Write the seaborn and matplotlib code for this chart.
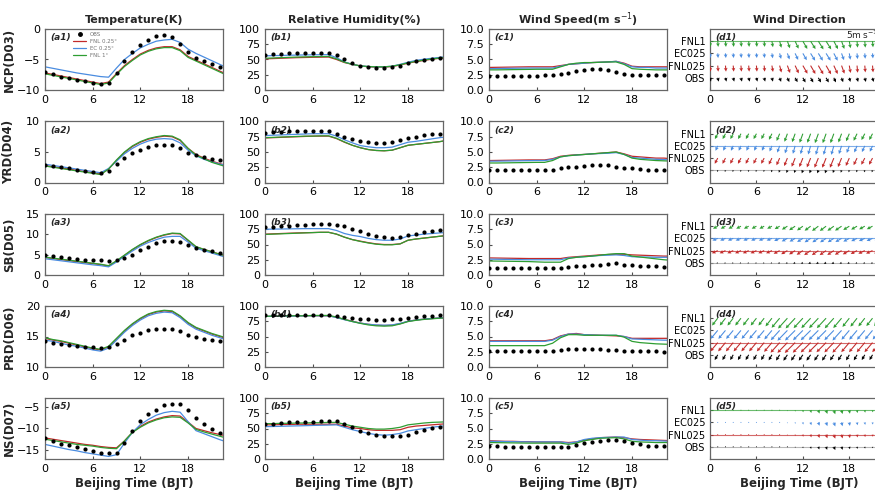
import numpy as np
import pandas as pd
import matplotlib.pyplot as plt
from matplotlib.lines import Line2D
import seaborn as sns

hours = list(range(24))
regions = ['NCP(D03)', 'YRD(D04)', 'SB(D05)', 'PRD(D06)', 'NS(D07)']
sources = ['FNL 0.25°', 'EC 0.25°', 'FNL 1°']
levels = ['OBS', 'FNL025', 'EC025', 'FNL1']

# ---- temperature (K), rows = regions ----
temp_obs = [
    [-7.1, -7.4, -7.8, -8.1, -8.3, -8.6, -8.9, -9.0, -8.9, -7.2, -5.2, -3.7, -2.7, -1.8, -1.2, -1.0, -1.3, -2.4, -3.7, -4.7, -5.2, -5.8, -6.3, -6.8],
    [2.9, 2.7, 2.5, 2.3, 2.1, 1.9, 1.7, 1.5, 1.9, 3.0, 4.0, 4.8, 5.4, 5.8, 6.1, 6.2, 6.1, 5.6, 4.9, 4.5, 4.2, 3.9, 3.7, 3.5],
    [4.8, 4.6, 4.4, 4.2, 4.0, 3.8, 3.7, 3.6, 3.5, 3.7, 4.2, 5.0, 6.1, 7.0, 7.9, 8.3, 8.4, 8.1, 7.5, 6.7, 6.2, 5.8, 5.4, 5.1],
    [14.3, 14.0, 13.8, 13.6, 13.4, 13.3, 13.2, 13.1, 13.2, 13.8, 14.5, 15.2, 15.6, 16.0, 16.2, 16.3, 16.2, 15.9, 15.3, 14.9, 14.6, 14.4, 14.3, 14.1],
    [-12.3, -13.1, -13.6, -14.0, -14.4, -14.9, -15.3, -15.7, -15.8, -15.8, -13.4, -10.7, -8.3, -6.8, -5.7, -4.6, -4.3, -4.4, -5.7, -7.6, -9.1, -10.3, -11.1, -12.0],
]
temp_fnl025 = [
    [-7.2, -7.45, -7.7, -7.95, -8.2, -8.45, -8.7, -8.95, -8.7, -7.3, -6.0, -5.0, -4.1, -3.5, -3.1, -2.9, -2.9, -3.4, -4.5, -5.1, -5.7, -6.3, -6.9, -7.5],
    [2.8, 2.6, 2.4, 2.2, 2.0, 1.8, 1.6, 1.4, 2.2, 3.6, 4.9, 5.9, 6.6, 7.1, 7.4, 7.6, 7.5, 6.9, 5.6, 4.6, 4.0, 3.5, 3.1, 2.7],
    [4.3, 4.05, 3.8, 3.55, 3.3, 3.05, 2.8, 2.55, 2.2, 3.4, 4.8, 6.2, 7.4, 8.4, 9.2, 9.8, 10.2, 10.1, 8.5, 6.9, 6.3, 5.7, 5.1, 4.6],
    [14.7, 14.4, 14.2, 13.9, 13.6, 13.3, 13.0, 12.8, 13.3, 14.6, 15.9, 17.0, 17.9, 18.6, 19.0, 19.2, 19.1, 18.3, 17.2, 16.4, 15.9, 15.4, 15.0, 14.6],
    [-12.3, -12.6, -12.9, -13.2, -13.5, -13.8, -14.0, -14.3, -14.5, -14.6, -13.0, -11.0, -9.6, -8.6, -7.9, -7.4, -7.1, -7.2, -8.6, -10.1, -10.6, -11.1, -11.5, -11.9],
]
temp_ec025 = [
    [-6.2, -6.45, -6.7, -6.95, -7.2, -7.4, -7.6, -7.8, -7.9, -6.4, -5.0, -4.0, -3.1, -2.5, -2.0, -1.8, -1.7, -2.2, -3.3, -4.0, -4.6, -5.2, -5.8, -6.4],
    [3.0, 2.8, 2.6, 2.4, 2.2, 2.0, 1.8, 1.6, 2.3, 3.5, 4.7, 5.6, 6.3, 6.8, 7.1, 7.2, 7.1, 6.5, 5.3, 4.4, 3.8, 3.4, 3.0, 2.8],
    [4.0, 3.75, 3.5, 3.25, 3.0, 2.75, 2.5, 2.3, 2.0, 3.2, 4.6, 5.9, 7.1, 8.0, 8.7, 9.3, 9.5, 9.5, 8.1, 6.6, 6.0, 5.4, 4.8, 4.2],
    [14.4, 14.2, 13.9, 13.6, 13.4, 13.1, 12.8, 12.6, 13.1, 14.4, 15.7, 16.8, 17.7, 18.4, 18.8, 19.0, 18.9, 18.1, 17.0, 16.2, 15.7, 15.2, 14.8, 14.4],
    [-13.8, -14.2, -14.6, -15.0, -15.3, -15.7, -16.0, -16.3, -16.6, -16.2, -13.5, -11.0, -9.2, -8.0, -7.0, -6.4, -6.1, -6.3, -8.5, -10.6, -11.3, -12.0, -12.7, -13.3],
]
temp_fnl1 = [
    [-7.35, -7.6, -7.85, -8.1, -8.35, -8.6, -8.85, -9.1, -8.85, -7.45, -6.15, -5.15, -4.25, -3.65, -3.25, -3.05, -3.05, -3.55, -4.65, -5.25, -5.85, -6.45, -7.05, -7.65],
    [2.7, 2.5, 2.3, 2.1, 1.9, 1.7, 1.5, 1.3, 2.2, 3.7, 5.0, 6.0, 6.7, 7.2, 7.5, 7.7, 7.6, 7.0, 5.6, 4.5, 3.9, 3.3, 2.9, 2.5],
    [4.4, 4.15, 3.9, 3.65, 3.4, 3.15, 2.9, 2.65, 2.3, 3.5, 4.9, 6.3, 7.5, 8.5, 9.3, 9.9, 10.3, 10.2, 8.6, 7.0, 6.3, 5.7, 5.1, 4.6],
    [14.8, 14.5, 14.3, 14.0, 13.7, 13.4, 13.1, 12.9, 13.4, 14.7, 16.0, 17.1, 18.0, 18.7, 19.1, 19.3, 19.2, 18.4, 17.3, 16.5, 16.0, 15.5, 15.1, 14.7],
    [-12.6, -12.9, -13.2, -13.5, -13.8, -14.0, -14.2, -14.5, -14.7, -14.8, -13.0, -11.0, -9.8, -8.8, -8.1, -7.6, -7.4, -7.5, -8.8, -10.3, -10.9, -11.4, -11.9, -12.4],
]

# ---- relative humidity (%) ----
rh_obs = [
    [57, 59, 59, 60, 60, 61, 61, 61, 61, 57, 50, 45, 40, 38, 36, 36, 37, 40, 44, 47, 49, 51, 52, 54],
    [81, 83, 83, 84, 84, 84, 84, 84, 84, 80, 75, 72, 68, 67, 65, 65, 67, 70, 73, 75, 78, 79, 80, 81],
    [78, 79, 80, 81, 82, 82, 83, 83, 83, 82, 80, 76, 72, 68, 64, 62, 61, 62, 65, 67, 70, 72, 74, 75],
    [85, 85, 85, 86, 86, 86, 86, 86, 86, 84, 82, 80, 79, 78, 77, 77, 78, 78, 80, 82, 83, 84, 85, 85],
    [58, 58, 59, 60, 60, 61, 61, 62, 62, 62, 58, 52, 46, 42, 40, 38, 37, 37, 40, 45, 48, 51, 53, 55],
]
rh_fnl025 = [
    [51, 51.5, 52, 52.5, 53, 53.3, 53.6, 53.8, 54, 50, 45, 42, 39.5, 38, 37.5, 37.5, 38.5, 41, 44, 46.5, 48.5, 50.5, 52, 53],
    [73, 73.5, 74, 74.5, 75, 75.5, 76, 76, 76, 72, 66, 61, 57, 54, 52.5, 52, 53, 57, 61, 62.5, 64, 65.5, 67, 69],
    [67, 67.5, 68, 68.5, 69, 69.3, 69.6, 70, 70, 67, 62, 58, 55.5, 53, 51, 50, 50, 51, 57, 59, 60.5, 62, 63.5, 65],
    [83, 83, 83.5, 83.5, 84, 84, 84, 84, 84, 81.5, 78, 75, 72, 70, 68.5, 68, 68.5, 71, 75, 77, 78.5, 79.5, 80.5, 81],
    [56, 56, 56.5, 56.5, 57, 57, 57, 57, 57, 57, 54, 51, 50, 48, 47, 47, 47, 48, 52, 54, 55, 56, 57, 58],
]
rh_ec025 = [
    [56, 56.3, 56.6, 57, 57.2, 57.5, 57.7, 57.9, 58, 53, 46, 42, 39.5, 38.5, 38, 38, 39, 42, 45.5, 48.5, 50.5, 52, 53.5, 55],
    [77, 77.5, 78, 78.5, 79, 79.5, 80, 80, 80, 76, 70, 65, 60.5, 58.5, 57, 57, 58, 62, 66, 67.5, 69.5, 71.5, 73.5, 75],
    [75, 75.2, 75.4, 75.6, 75.8, 76, 76, 76, 76, 73, 68, 65, 63, 60, 58, 57, 57, 59, 64, 65.5, 67, 68, 69, 70],
    [83, 83, 83, 83.5, 83.5, 84, 84, 84, 84, 81, 77.5, 74.5, 72, 70, 69, 68.5, 69, 71.5, 75, 77, 78.5, 79.5, 80.5, 81],
    [53, 53.3, 53.6, 54, 54.3, 54.6, 55, 55.3, 55.6, 56, 52, 48, 45, 42, 40, 39, 40, 42, 46, 48, 50, 52, 53.5, 55],
]
rh_fnl1 = [
    [52, 52.5, 53, 53.5, 54, 54.3, 54.6, 54.8, 55, 51, 45.5, 42, 39.5, 38.5, 38, 38, 39, 41.5, 44.5, 47, 49, 51, 52.5, 54],
    [73.5, 74, 74.5, 75, 75.5, 76, 76, 76.5, 76.5, 72.5, 66.5, 61, 57, 54, 52.5, 52, 53, 57, 61, 62.5, 64, 65.5, 67, 69.5],
    [66.5, 67, 67.5, 68, 68.5, 69, 69.5, 70, 70, 67, 62, 58, 55, 52.5, 50.5, 49.5, 49.5, 51, 57, 59, 60.5, 62, 63.5, 64.5],
    [83, 83.5, 83.5, 84, 84, 84, 84.5, 84.5, 84.5, 82, 78, 74.5, 71.5, 69, 67.5, 67, 67.5, 70.5, 74.5, 76.5, 78, 79, 80, 80.5],
    [58, 58, 58.5, 58.5, 59, 59, 59.5, 59.5, 60, 60, 57, 54, 52, 50, 49, 49, 50, 52, 56, 57.5, 59, 60, 60.5, 61],
]

# ---- wind speed (m/s) ----
ws_obs = [
    [2.3, 2.3, 2.3, 2.3, 2.3, 2.3, 2.3, 2.4, 2.4, 2.6, 2.8, 3.1, 3.3, 3.5, 3.4, 3.3, 3.0, 2.7, 2.5, 2.5, 2.4, 2.4, 2.4, 2.4],
    [2.0, 2.0, 2.0, 2.0, 2.0, 2.0, 2.0, 2.1, 2.1, 2.3, 2.5, 2.6, 2.7, 2.8, 2.8, 2.8, 2.6, 2.4, 2.3, 2.2, 2.1, 2.1, 2.1, 2.1],
    [1.2, 1.2, 1.2, 1.1, 1.1, 1.1, 1.1, 1.1, 1.2, 1.2, 1.3, 1.4, 1.5, 1.6, 1.7, 1.8, 1.9, 1.7, 1.6, 1.5, 1.4, 1.4, 1.3, 1.3],
    [2.6, 2.6, 2.6, 2.7, 2.6, 2.6, 2.6, 2.6, 2.7, 2.8, 2.9, 3.0, 3.0, 2.9, 2.9, 2.8, 2.8, 2.7, 2.7, 2.6, 2.6, 2.6, 2.5, 2.5],
    [2.2, 2.1, 2.0, 2.0, 2.0, 2.0, 2.0, 2.0, 1.9, 1.9, 2.0, 2.3, 2.6, 2.8, 3.0, 3.1, 3.1, 3.0, 2.7, 2.4, 2.2, 2.1, 2.1, 2.0],
]
ws_fnl025 = [
    [3.7, 3.72, 3.74, 3.76, 3.78, 3.8, 3.8, 3.8, 3.8, 4.0, 4.2, 4.3, 4.4, 4.5, 4.55, 4.6, 4.7, 4.4, 3.9, 3.8, 3.8, 3.8, 3.8, 3.8],
    [3.6, 3.62, 3.64, 3.66, 3.68, 3.7, 3.7, 3.7, 3.9, 4.3, 4.45, 4.55, 4.6, 4.7, 4.8, 4.9, 5.0, 4.7, 4.3, 4.2, 4.1, 4.0, 4.0, 3.9],
    [2.8, 2.78, 2.76, 2.74, 2.72, 2.7, 2.7, 2.7, 2.7, 2.7, 2.9, 3.0, 3.1, 3.2, 3.3, 3.35, 3.4, 3.4, 3.3, 3.25, 3.2, 3.15, 3.1, 3.1],
    [4.3, 4.3, 4.3, 4.3, 4.3, 4.3, 4.3, 4.3, 4.5, 5.1, 5.4, 5.5, 5.3, 5.25, 5.2, 5.15, 5.1, 5.0, 4.7, 4.7, 4.7, 4.7, 4.7, 4.7],
    [3.0, 2.95, 2.9, 2.9, 2.85, 2.85, 2.8, 2.8, 2.8, 2.8, 2.7, 2.8, 3.1, 3.3, 3.5, 3.55, 3.6, 3.5, 3.3, 3.2, 3.15, 3.1, 3.05, 3.0],
]
ws_ec025 = [
    [3.5, 3.52, 3.54, 3.56, 3.58, 3.6, 3.6, 3.6, 3.6, 3.9, 4.2, 4.3, 4.4, 4.5, 4.55, 4.6, 4.7, 4.3, 3.8, 3.7, 3.7, 3.6, 3.6, 3.6],
    [3.5, 3.5, 3.52, 3.54, 3.56, 3.58, 3.6, 3.6, 3.8, 4.2, 4.4, 4.5, 4.6, 4.7, 4.75, 4.8, 4.9, 4.6, 4.1, 4.0, 3.9, 3.8, 3.75, 3.7],
    [2.6, 2.58, 2.56, 2.54, 2.52, 2.5, 2.5, 2.5, 2.5, 2.5, 2.8, 2.9, 3.0, 3.1, 3.2, 3.25, 3.3, 3.2, 3.0, 2.95, 2.95, 2.9, 2.9, 2.9],
    [4.2, 4.2, 4.2, 4.2, 4.2, 4.2, 4.2, 4.2, 4.4, 5.0, 5.4, 5.4, 5.3, 5.25, 5.2, 5.2, 5.2, 5.0, 4.6, 4.55, 4.5, 4.45, 4.4, 4.4],
    [2.9, 2.88, 2.86, 2.84, 2.82, 2.8, 2.8, 2.8, 2.8, 2.8, 2.6, 2.8, 3.2, 3.4, 3.5, 3.55, 3.6, 3.6, 3.2, 3.1, 3.0, 3.0, 2.95, 2.9],
]
ws_fnl1 = [
    [3.3, 3.3, 3.32, 3.34, 3.36, 3.38, 3.4, 3.4, 3.4, 3.8, 4.2, 4.4, 4.5, 4.5, 4.55, 4.6, 4.6, 4.2, 3.5, 3.4, 3.35, 3.3, 3.3, 3.3],
    [3.2, 3.2, 3.22, 3.24, 3.26, 3.28, 3.3, 3.3, 3.6, 4.2, 4.4, 4.5, 4.6, 4.7, 4.8, 4.9, 5.0, 4.6, 4.0, 3.8, 3.7, 3.6, 3.55, 3.5],
    [2.3, 2.28, 2.26, 2.24, 2.22, 2.2, 2.15, 2.1, 2.1, 2.1, 2.7, 2.9, 3.0, 3.1, 3.25, 3.4, 3.5, 3.5, 3.1, 2.95, 2.8, 2.65, 2.5, 2.4],
    [3.5, 3.5, 3.5, 3.5, 3.5, 3.5, 3.5, 3.5, 3.9, 4.8, 5.3, 5.3, 5.2, 5.2, 5.2, 5.2, 5.2, 4.9, 4.2, 4.0, 3.9, 3.8, 3.75, 3.7],
    [2.7, 2.68, 2.66, 2.64, 2.62, 2.6, 2.6, 2.6, 2.6, 2.6, 2.4, 2.6, 3.0, 3.2, 3.4, 3.45, 3.5, 3.3, 2.9, 2.8, 2.75, 2.7, 2.7, 2.7],
]

# ---- wind direction: direction wind blows from (deg) and vector-mean speed (m/s) ----
# order of sources inside each region: OBS, FNL025, EC025, FNL1
wd_ncp = [
    [345, 345, 345, 345, 345, 345, 345, 345, 345, 340, 335, 330, 330, 330, 330, 330, 335, 340, 345, 345, 345, 345, 345, 345],
    [355, 355, 355, 355, 355, 355, 355, 355, 350, 345, 340, 335, 330, 330, 330, 330, 335, 340, 350, 355, 355, 355, 355, 355],
    [355, 355, 355, 355, 355, 355, 355, 355, 350, 345, 340, 335, 330, 328, 328, 328, 332, 340, 350, 355, 355, 355, 355, 355],
    [355, 355, 355, 355, 355, 355, 355, 355, 350, 345, 340, 335, 330, 328, 328, 328, 332, 340, 350, 355, 355, 355, 355, 355],
]
vs_ncp = [
    [1.1, 1.1, 1.1, 1.1, 1.1, 1.1, 1.1, 1.1, 1.1, 1.2, 1.3, 1.4, 1.5, 1.5, 1.5, 1.5, 1.4, 1.3, 1.2, 1.2, 1.2, 1.2, 1.2, 1.2],
    [1.7, 1.7, 1.7, 1.7, 1.7, 1.7, 1.7, 1.7, 1.8, 2.0, 2.2, 2.4, 2.6, 2.7, 2.8, 2.8, 2.6, 2.4, 2.1, 2.0, 1.9, 1.9, 1.8, 1.8],
    [1.3, 1.3, 1.3, 1.3, 1.3, 1.3, 1.3, 1.3, 1.4, 1.6, 1.8, 2.0, 2.2, 2.4, 2.4, 2.4, 2.3, 2.0, 1.8, 1.6, 1.5, 1.4, 1.4, 1.4],
    [1.6, 1.6, 1.6, 1.6, 1.6, 1.6, 1.6, 1.6, 1.7, 1.9, 2.1, 2.3, 2.5, 2.6, 2.7, 2.7, 2.5, 2.3, 2.0, 1.8, 1.8, 1.7, 1.7, 1.7],
]
wd_yrd = [
    [20, 20, 20, 20, 20, 20, 20, 20, 20, 20, 20, 20, 20, 20, 20, 20, 20, 20, 20, 20, 20, 20, 20, 20],
    [28, 28, 28, 28, 28, 28, 28, 28, 26, 24, 22, 22, 22, 22, 22, 22, 22, 22, 24, 26, 28, 28, 28, 28],
    [25, 25, 25, 25, 25, 25, 25, 25, 23, 20, 18, 16, 16, 16, 16, 16, 16, 18, 20, 23, 25, 25, 25, 25],
    [28, 28, 28, 28, 28, 28, 28, 28, 26, 23, 20, 20, 20, 20, 20, 20, 20, 20, 23, 26, 28, 28, 28, 28],
]
vs_yrd = [
    [0.5, 0.5, 0.5, 0.5, 0.5, 0.5, 0.5, 0.5, 0.6, 0.7, 0.8, 0.8, 0.9, 0.9, 0.9, 0.9, 0.8, 0.7, 0.6, 0.6, 0.6, 0.6, 0.5, 0.5],
    [1.8, 1.8, 1.8, 1.8, 1.8, 1.8, 1.8, 1.8, 2.0, 2.2, 2.4, 2.6, 2.7, 2.8, 2.9, 2.9, 2.9, 2.7, 2.4, 2.2, 2.1, 2.1, 2.0, 2.0],
    [1.5, 1.5, 1.5, 1.5, 1.5, 1.5, 1.5, 1.5, 1.7, 2.0, 2.2, 2.3, 2.4, 2.5, 2.6, 2.6, 2.6, 2.4, 2.1, 2.0, 1.9, 1.8, 1.8, 1.8],
    [1.7, 1.7, 1.7, 1.7, 1.7, 1.7, 1.7, 1.7, 1.9, 2.2, 2.4, 2.5, 2.7, 2.7, 2.8, 2.8, 2.8, 2.6, 2.3, 2.2, 2.0, 2.0, 2.0, 2.0],
]
wd_sb = [
    [70, 70, 70, 70, 70, 70, 70, 70, 70, 70, 70, 70, 70, 70, 70, 70, 70, 70, 70, 70, 70, 70, 70, 70],
    [65, 65, 65, 65, 65, 65, 65, 65, 65, 62, 60, 58, 56, 55, 55, 55, 56, 58, 60, 62, 64, 65, 65, 65],
    [68, 68, 68, 68, 68, 68, 68, 68, 68, 65, 62, 60, 58, 57, 57, 57, 58, 60, 62, 65, 66, 67, 68, 68],
    [62, 62, 62, 62, 62, 62, 62, 62, 62, 60, 58, 56, 54, 53, 53, 53, 54, 56, 58, 60, 61, 62, 62, 62],
]
vs_sb = [
    [0.4, 0.4, 0.4, 0.4, 0.4, 0.4, 0.4, 0.4, 0.4, 0.5, 0.5, 0.6, 0.6, 0.7, 0.7, 0.7, 0.7, 0.6, 0.6, 0.5, 0.5, 0.5, 0.4, 0.4],
    [1.8, 1.8, 1.8, 1.8, 1.8, 1.8, 1.8, 1.8, 1.8, 1.9, 2.0, 2.0, 2.1, 2.2, 2.2, 2.2, 2.2, 2.2, 2.1, 2.0, 2.0, 2.0, 1.9, 1.9],
    [1.6, 1.6, 1.6, 1.6, 1.6, 1.6, 1.6, 1.6, 1.6, 1.7, 1.8, 1.8, 1.9, 2.0, 2.0, 2.0, 2.0, 2.0, 1.9, 1.8, 1.8, 1.8, 1.7, 1.7],
    [1.5, 1.5, 1.5, 1.5, 1.5, 1.5, 1.5, 1.5, 1.5, 1.6, 1.8, 2.0, 2.0, 2.1, 2.2, 2.2, 2.2, 2.2, 2.0, 1.9, 1.8, 1.8, 1.7, 1.6],
]
wd_prd = [
    [30, 30, 30, 30, 30, 30, 30, 30, 30, 32, 34, 35, 35, 35, 35, 35, 34, 32, 30, 30, 30, 30, 30, 30],
    [40, 40, 40, 40, 40, 40, 40, 40, 40, 42, 44, 45, 45, 45, 45, 45, 44, 42, 40, 40, 40, 40, 40, 40],
    [40, 40, 40, 40, 40, 40, 40, 40, 40, 42, 44, 45, 45, 45, 45, 45, 44, 42, 40, 40, 40, 40, 40, 40],
    [38, 38, 38, 38, 38, 38, 38, 38, 38, 40, 42, 43, 43, 43, 43, 43, 42, 40, 38, 38, 38, 38, 38, 38],
]
vs_prd = [
    [1.7, 1.7, 1.7, 1.7, 1.7, 1.7, 1.7, 1.7, 1.8, 1.9, 2.0, 2.0, 2.0, 2.0, 2.0, 2.0, 1.9, 1.9, 1.8, 1.8, 1.7, 1.7, 1.7, 1.7],
    [3.2, 3.2, 3.2, 3.2, 3.2, 3.2, 3.2, 3.2, 3.4, 3.8, 4.0, 4.1, 4.0, 3.9, 3.9, 3.8, 3.8, 3.8, 3.5, 3.5, 3.5, 3.5, 3.5, 3.5],
    [3.1, 3.1, 3.1, 3.1, 3.1, 3.1, 3.1, 3.1, 3.3, 3.7, 4.0, 4.0, 3.9, 3.9, 3.8, 3.8, 3.8, 3.8, 3.4, 3.4, 3.4, 3.3, 3.3, 3.3],
    [2.6, 2.6, 2.6, 2.6, 2.6, 2.6, 2.6, 2.6, 2.9, 3.5, 3.9, 3.9, 3.8, 3.8, 3.8, 3.8, 3.8, 3.6, 3.1, 3.0, 2.9, 2.8, 2.8, 2.7],
]
wd_ns = [
    [350, 350, 350, 350, 350, 350, 350, 350, 350, 350, 350, 350, 350, 345, 340, 340, 335, 340, 345, 350, 350, 350, 350, 350],
    [350, 350, 350, 350, 350, 350, 350, 350, 350, 350, 350, 350, 350, 345, 340, 340, 340, 345, 350, 350, 350, 350, 350, 350],
    [350, 350, 350, 350, 350, 350, 350, 350, 350, 350, 350, 350, 350, 345, 340, 340, 340, 345, 350, 350, 350, 350, 350, 350],
    [350, 350, 350, 350, 350, 350, 350, 350, 350, 350, 350, 350, 350, 345, 340, 340, 340, 345, 350, 350, 350, 350, 350, 350],
]
vs_ns = [
    [0.2, 0.2, 0.2, 0.2, 0.2, 0.2, 0.2, 0.2, 0.2, 0.2, 0.2, 0.3, 0.4, 0.6, 0.8, 0.9, 1.0, 0.9, 0.7, 0.6, 0.5, 0.4, 0.3, 0.3],
    [0.2, 0.2, 0.2, 0.2, 0.2, 0.2, 0.2, 0.2, 0.2, 0.2, 0.3, 0.4, 0.6, 0.8, 1.0, 1.1, 1.2, 1.1, 1.0, 0.8, 0.7, 0.6, 0.5, 0.5],
    [0.2, 0.2, 0.2, 0.2, 0.2, 0.2, 0.2, 0.2, 0.2, 0.2, 0.3, 0.4, 0.6, 0.8, 1.0, 1.1, 1.2, 1.1, 1.0, 0.8, 0.7, 0.6, 0.5, 0.5],
    [0.2, 0.2, 0.2, 0.2, 0.2, 0.2, 0.2, 0.2, 0.2, 0.2, 0.3, 0.4, 0.6, 0.8, 1.0, 1.1, 1.2, 1.1, 1.0, 0.8, 0.7, 0.6, 0.5, 0.5],
]
wd_all = [wd_ncp, wd_yrd, wd_sb, wd_prd, wd_ns]
vs_all = [vs_ncp, vs_yrd, vs_sb, vs_prd, vs_ns]
# horizontal guide lines visible in each wind-direction panel (level index)
guide_lines = [[3], [2, 0], [2, 1, 0], [1], [3, 1, 0]]

col_titles = ['Temperature(K)', 'Relative Humidity(%)', 'Wind Speed(m s$^{-1}$)', 'Wind Direction']
ylims = [
    [(-10, 0), (0, 10), (0, 15), (10, 20), (-17.2, -3)],
    [(0, 100)] * 5,
    [(0, 10)] * 5,
]
yticks = [
    [[-10, -5, 0], [0, 5, 10], [0, 5, 10, 15], [10, 15, 20], [-15, -10, -5]],
    [[0, 25, 50, 75, 100]] * 5,
    [[0, 2.5, 5, 7.5, 10]] * 5,
]

pal = {'FNL 0.25°': '#c22a2a', 'EC 0.25°': '#4a8ce0', 'FNL 1°': '#2e9e32'}
lvl_colors = ['black', '#c22a2a', '#4a8ce0', '#2e9e32']
guide_colors = ['0.6', '#c22a2a', '#4a8ce0', '#2e9e32']

sns.set_theme(style='ticks')
plt.rcParams['font.family'] = ['DejaVu Sans']
plt.rcParams['xtick.direction'] = 'in'
plt.rcParams['ytick.direction'] = 'in'
plt.rcParams['xtick.labelsize'] = 8
plt.rcParams['ytick.labelsize'] = 8
plt.rcParams['xtick.major.size'] = 2.5
plt.rcParams['ytick.major.size'] = 2.5

W, H = 875, 496
fig = plt.figure(figsize=(W / 100, H / 100), dpi=100)
col_left = [45, 265, 489, 710]
row_top = [29, 121.5, 214, 306, 398]
aw, ah = 178, 61

series = [
    (temp_obs, temp_fnl025, temp_ec025, temp_fnl1),
    (rh_obs, rh_fnl025, rh_ec025, rh_fnl1),
    (ws_obs, ws_fnl025, ws_ec025, ws_fnl1),
]
letters = 'abcd'

for r in range(5):
    for c in range(4):
        ax = fig.add_axes([col_left[c] / W, 1 - (row_top[r] + ah) / H, aw / W, ah / H])
        if c < 3:
            obs, f025, e025, f1 = series[c]
            df = pd.DataFrame({
                'hour': hours * 3,
                'value': f025[r] + e025[r] + f1[r],
                'src': [sources[0]] * 24 + [sources[1]] * 24 + [sources[2]] * 24,
            })
            sns.lineplot(data=df, x='hour', y='value', hue='src', palette=pal,
                         linewidth=0.9, ax=ax, legend=False)
            sns.scatterplot(x=hours, y=obs[r], color='black', s=9, linewidth=0,
                            ax=ax, legend=False, zorder=5)
            ax.set_xlim(0, 22.4)
            ax.set_ylim(*ylims[c][r])
            ax.set_yticks(yticks[c][r])
            if c == 2:
                ax.set_yticklabels(['0.0', '2.5', '5.0', '7.5', '10.0'])
        else:
            for lv in guide_lines[r]:
                ax.axhline(lv + 1, color=guide_colors[lv], lw=0.8, alpha=0.7, zorder=1)
            for lv in range(4):
                wd = np.deg2rad(np.array(wd_all[r][lv]))
                sp = np.array(vs_all[r][lv])
                u = -sp * np.sin(wd)
                v = -sp * np.cos(wd)
                q = ax.quiver(hours, [lv + 1] * 24, u, v, color=lvl_colors[lv],
                              angles='uv', scale_units='inches', scale=28,
                              width=0.006, headwidth=3.5, headlength=3.5,
                              headaxislength=3, pivot='tail', zorder=3)
                if r == 0 and lv == 3:
                    ax.quiverkey(q, X=1.0, Y=0.9, U=5, label='5m s$^{-1}$',
                                 labelpos='W', coordinates='axes',
                                 fontproperties={'size': 6.5})
            ax.set_xlim(0, 23)
            ax.set_ylim(0, 5)
            ax.set_yticks([1, 2, 3, 4])
            ax.set_yticklabels(levels, fontsize=7)
        ax.set_xticks([0, 6, 12, 18])
        ax.set_xlabel('')
        ax.set_ylabel('')
        for sp_ in ax.spines.values():
            sp_.set_color('0.4')
            sp_.set_linewidth(0.9)
        ax.tick_params(colors='0.3', labelcolor='black', width=0.8)
        ax.text(0.03, 0.93, f'({letters[c]}{r + 1})', transform=ax.transAxes,
                fontsize=6.5, fontweight='bold', style='italic', va='top')
        if r == 0:
            ax.set_title(col_titles[c], fontsize=8, fontweight='bold', pad=4)
        if c == 0:
            ax.set_ylabel(regions[r], fontsize=8.5, fontweight='bold')
            ax.yaxis.set_label_coords(-0.165, 0.5)
        if r == 4:
            ax.set_xlabel('Beijing Time (BJT)', fontsize=8.5, fontweight='bold', labelpad=2)
        if r == 0 and c == 0:
            handles = [Line2D([], [], marker='o', ls='', color='black', ms=2.5)]
            handles += [Line2D([], [], color=pal[s], lw=0.9) for s in sources]
            ax.legend(handles, ['OBS'] + sources, loc='upper left',
                      bbox_to_anchor=(0.13, 1.03), frameon=False, fontsize=4,
                      handlelength=2.4, handletextpad=0.6, labelspacing=0.35,
                      labelcolor='0.45')

fig.savefig('out.png', dpi=100)
